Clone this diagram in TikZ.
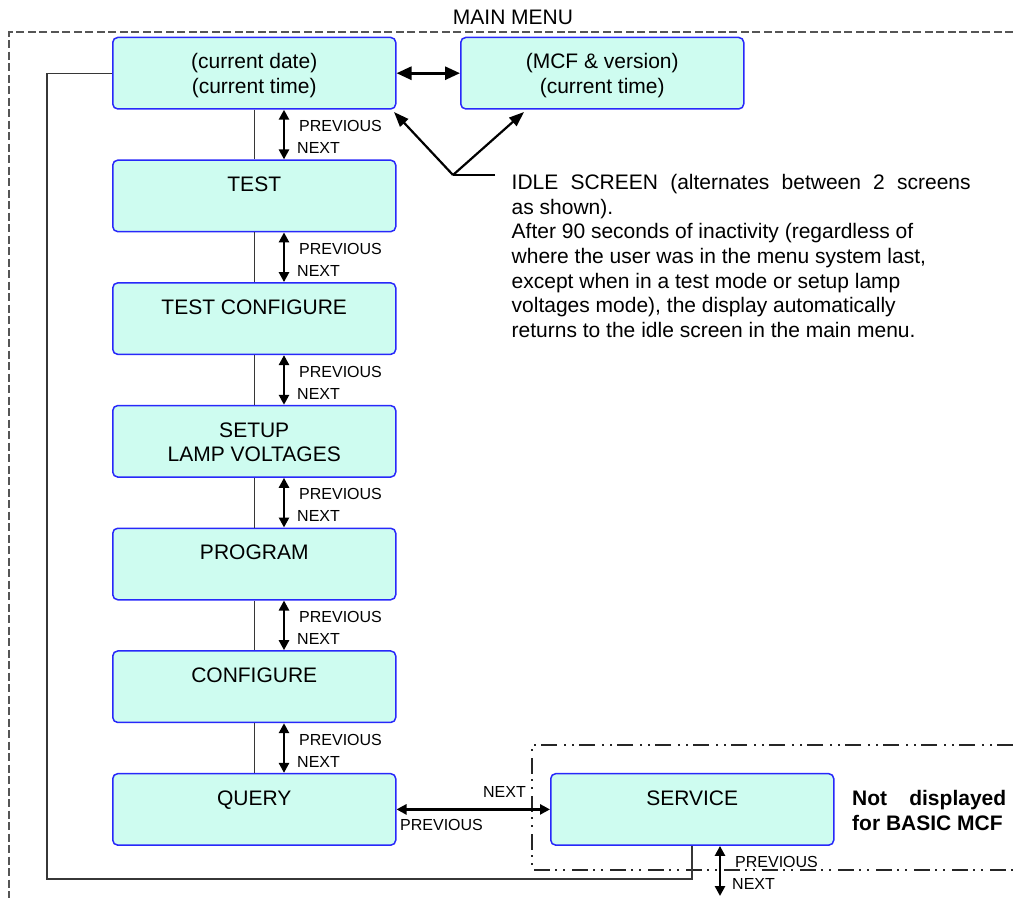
\documentclass[tikz,border=0pt]{standalone}
\usepackage{fontspec}
\setmainfont{Liberation Sans}
\usetikzlibrary{arrows.meta,calc}
\definecolor{boxfill}{RGB}{206,252,240}
\definecolor{boxline}{RGB}{40,40,250}
\definecolor{lineg}{RGB}{55,55,55}
\definecolor{frameg}{RGB}{85,85,85}
\newcommand{\bxt}[1]{\parbox[t][71.5pt][t]{283pt}{\centering\vspace*{14.3pt}#1}}
\begin{document}
\begin{tikzpicture}[x=1pt,y=1pt,
  font=\fontsize{21}{24.5}\selectfont,
  box/.style={draw=boxline, fill=boxfill, line width=1.5pt, rounded corners=5pt, inner sep=0pt, anchor=north west},
  dbl/.style={line width=2.6pt, {Triangle[length=10pt,width=10pt]}-{Triangle[length=10pt,width=10pt]}},
  dblbig/.style={line width=2.8pt, {Triangle[length=15pt,width=13pt]}-{Triangle[length=15pt,width=13pt]}},
  ptr/.style={line width=2.2pt, -{Triangle[length=15pt,width=11pt]}},
  thinl/.style={draw=lineg, line width=1.4pt},
  small/.style={font=\fontsize{16}{18}\selectfont, inner sep=0pt},
  mainframe/.style={draw=frameg, line width=1.4pt, dash pattern=on 8pt off 3.5pt},
  dashdot/.style={draw=black!85, line width=1.6pt, dash pattern=on 16pt off 5pt on 2pt off 6pt on 2pt off 7pt}]
\useasboundingbox (0,0) rectangle (1013,-898);
% frames
\draw[mainframe] (1013,-32) -- (9,-32) -- (9,-898);
\node[inner sep=0pt] (title) at (513,-17.5) {MAIN MENU};
\draw[dashdot] (1013,-745) -- (532,-745) -- (532,-870) -- (1013,-870);
% boxes
\node[box] (b1) at (112,-36.7) {\bxt{\strut(current date)\\\strut(current time)}};
\node[box] (b2) at (460,-36.7) {\bxt{\strut(MCF \& version)\\\strut(current time)}};
\node[box] (b3) at (112,-159.4) {\bxt{\strut TEST}};
\node[box] (b4) at (112,-282.1) {\bxt{\strut TEST CONFIGURE}};
\node[box] (b5) at (112,-404.8) {\bxt{\strut SETUP\\\strut LAMP VOLTAGES}};
\node[box] (b6) at (112,-527.5) {\bxt{\strut PROGRAM}};
\node[box] (b7) at (112,-650.2) {\bxt{\strut CONFIGURE}};
\node[box] (b8) at (112,-772.9) {\bxt{\strut QUERY}};
\node[box] (srv) at (550,-772.9) {\bxt{\strut SERVICE}};
% vertical connectors
\foreach \a/\b in {b1/b3,b3/b4,b4/b5,b5/b6,b6/b7,b7/b8}{
  \draw[thinl] (\a.south) -- (\b.north);
  \draw[dbl] ([xshift=172pt]\a.south west) -- ([xshift=172pt]\b.north west);
  \node[small, anchor=west] (p\a) at ([xshift=187pt,yshift=-16.5pt]\a.south west) {PREVIOUS};
  \node[small, anchor=west] (n\a) at ([xshift=185pt,yshift=-38.5pt]\a.south west) {NEXT};
}
% idle screens
\draw[dblbig] (b1.east) -- (b2.west);
\coordinate (ic) at (453,-175);
\coordinate (ie) at (495,-175);
\coordinate (t1) at (394,-112);
\coordinate (t2) at (524,-112);
\draw[line width=1.6pt] (ie) -- (ic);
\draw[ptr] (ic) -- (t1);
\draw[ptr] (ic) -- (t2);
\node[anchor=north west, inner sep=0pt, align=left, font=\fontsize{21}{24.7}\selectfont] (idletxt) at (511.5,-171.9)
  {\makebox[459pt][s]{\strut IDLE SCREEN (alternates between 2 screens}\\
   as shown).\\
   After 90 seconds of inactivity (regardless of\\
   where the user was in the menu system last,\\
   except when in a test mode or setup lamp\\
   voltages mode), the display automatically\\
   returns to the idle screen in the main menu.};
% loop line
\coordinate (lp) at (47,-879);
\draw[thinl] (b1.west) -| (lp) -| ([xshift=142pt]srv.south west);
% query - service
\draw[dbl] (b8.east) -- (srv.west);
\node[small, anchor=east] (qn) at (526,-792) {NEXT};
\node[small, anchor=west] (qp) at (400,-824.5) {PREVIOUS};
% service down
\coordinate (sd) at (720,-896);
\draw[dbl] ([xshift=170pt]srv.south west) -- (sd);
\node[small, anchor=west] (sp) at (735,-862) {PREVIOUS};
\node[small, anchor=west] (sn) at (732,-884) {NEXT};
% note
\node[anchor=north west, inner sep=0pt, align=left, font=\fontsize{21}{25}\selectfont\bfseries] (note) at (852,-788)
  {\makebox[154pt][s]{\strut Not displayed}\\for BASIC MCF};
\end{tikzpicture}
\end{document}
